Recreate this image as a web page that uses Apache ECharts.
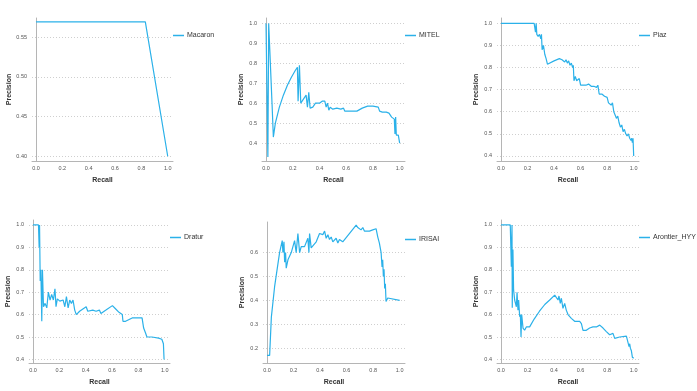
<!DOCTYPE html>
<html>
<head>
<meta charset="utf-8">
<script src="https://cdn.jsdelivr.net/npm/echarts@6/dist/echarts.min.js"></script>
<style>
  html, body { margin: 0; padding: 0; background: #fff; }
  #chart { width: 697px; height: 391px; }
</style>
</head>
<body>
<div id="chart"></div>
<script>
// precision-recall curves, [recall, precision]
const macaron = [[0, 0.569], [0.83, 0.569], [1.0, 0.40]]

const mitel = [
  [0, 1.0], [0.006, 1.0], [0.014, 0.33], [0.02, 1.0], [0.045, 0.60], [0.055, 0.43], [0.07, 0.50],
  [0.1, 0.58], [0.13, 0.64], [0.16, 0.69], [0.19, 0.73], [0.22, 0.765], [0.235, 0.78], [0.24, 0.61],
  [0.25, 0.79], [0.26, 0.60], [0.28, 0.62], [0.3, 0.64], [0.31, 0.58], [0.32, 0.655], [0.33, 0.575],
  [0.35, 0.58], [0.37, 0.60], [0.4, 0.60], [0.42, 0.61], [0.43, 0.60], [0.44, 0.61], [0.45, 0.58],
  [0.46, 0.60], [0.47, 0.565], [0.48, 0.58], [0.5, 0.57], [0.53, 0.575], [0.56, 0.57], [0.58, 0.575],
  [0.59, 0.56], [0.6, 0.57], [0.62, 0.56], [0.65, 0.56], [0.68, 0.56], [0.72, 0.575], [0.76, 0.585],
  [0.8, 0.585], [0.84, 0.58], [0.845, 0.59], [0.85, 0.56], [0.87, 0.555], [0.9, 0.555], [0.92, 0.55],
  [0.93, 0.56], [0.94, 0.53], [0.95, 0.53], [0.96, 0.52], [0.965, 0.445], [0.97, 0.53], [0.975, 0.44],
  [0.98, 0.43], [0.99, 0.44], [1.0, 0.40]
]

const piaz = [
  [0, 1.0], [0.25, 1.0], [0.26, 0.96], [0.265, 1.0], [0.27, 0.95], [0.28, 0.94], [0.29, 0.95],
  [0.3, 0.93], [0.305, 0.95], [0.31, 0.88], [0.32, 0.9], [0.33, 0.86], [0.34, 0.84], [0.35, 0.815],
  [0.36, 0.82], [0.4, 0.83], [0.44, 0.84], [0.455, 0.845], [0.46, 0.835], [0.47, 0.84], [0.48, 0.825],
  [0.49, 0.835], [0.5, 0.82], [0.51, 0.83], [0.52, 0.81], [0.53, 0.82], [0.54, 0.80], [0.545, 0.81],
  [0.55, 0.74], [0.56, 0.76], [0.57, 0.74], [0.58, 0.74], [0.59, 0.75], [0.6, 0.72], [0.62, 0.72],
  [0.64, 0.72], [0.66, 0.725], [0.68, 0.715], [0.7, 0.715], [0.72, 0.71], [0.73, 0.72], [0.74, 0.68],
  [0.76, 0.68], [0.78, 0.67], [0.8, 0.665], [0.81, 0.64], [0.82, 0.645], [0.83, 0.63], [0.84, 0.64],
  [0.85, 0.60], [0.86, 0.60], [0.87, 0.57], [0.88, 0.58], [0.89, 0.55], [0.9, 0.53], [0.91, 0.54],
  [0.92, 0.51], [0.93, 0.52], [0.94, 0.50], [0.95, 0.49], [0.96, 0.50], [0.97, 0.48], [0.98, 0.47],
  [0.985, 0.48], [0.99, 0.46], [0.995, 0.48], [1.0, 0.40]
]

const dratur = [
  [0, 1.0], [0.042, 1.0], [0.047, 0.90], [0.05, 1.0], [0.055, 0.75], [0.06, 0.80], [0.067, 0.57],
  [0.072, 0.80], [0.08, 0.635], [0.092, 0.65], [0.105, 0.63], [0.117, 0.70], [0.13, 0.665],
  [0.142, 0.69], [0.155, 0.665], [0.167, 0.715], [0.175, 0.635], [0.185, 0.67], [0.204, 0.66],
  [0.229, 0.665], [0.242, 0.635], [0.254, 0.68], [0.267, 0.63], [0.279, 0.665], [0.292, 0.65],
  [0.304, 0.665], [0.317, 0.62], [0.329, 0.60], [0.354, 0.615], [0.404, 0.635], [0.416, 0.615],
  [0.454, 0.62], [0.479, 0.615], [0.504, 0.62], [0.516, 0.605], [0.554, 0.62], [0.603, 0.64],
  [0.628, 0.625], [0.653, 0.61], [0.678, 0.60], [0.683, 0.57], [0.703, 0.57], [0.753, 0.585],
  [0.828, 0.585], [0.84, 0.54], [0.853, 0.52], [0.865, 0.50], [0.903, 0.50], [0.953, 0.495],
  [0.978, 0.49], [0.99, 0.47], [0.995, 0.40]
]

const irisai = [
  [0, 0.17], [0.02, 0.17], [0.033, 0.33], [0.058, 0.46], [0.083, 0.555], [0.095, 0.60], [0.108, 0.60],
  [0.115, 0.65], [0.12, 0.60], [0.128, 0.645], [0.133, 0.56], [0.14, 0.60], [0.145, 0.535],
  [0.158, 0.57], [0.183, 0.60], [0.208, 0.65], [0.22, 0.60], [0.233, 0.68], [0.246, 0.60],
  [0.258, 0.625], [0.283, 0.625], [0.308, 0.66], [0.316, 0.60], [0.321, 0.68], [0.333, 0.62],
  [0.371, 0.645], [0.396, 0.68], [0.421, 0.675], [0.434, 0.69], [0.446, 0.66], [0.459, 0.675],
  [0.471, 0.655], [0.484, 0.665], [0.496, 0.645], [0.521, 0.66], [0.534, 0.64], [0.546, 0.655],
  [0.571, 0.645], [0.672, 0.715], [0.684, 0.705], [0.697, 0.71], [0.709, 0.695], [0.722, 0.705],
  [0.734, 0.69], [0.747, 0.695], [0.772, 0.69], [0.797, 0.695], [0.81, 0.69], [0.822, 0.70],
  [0.835, 0.665], [0.847, 0.64], [0.86, 0.60], [0.867, 0.54], [0.872, 0.57], [0.877, 0.50],
  [0.882, 0.53], [0.887, 0.45], [0.892, 0.47], [0.897, 0.395], [0.91, 0.41], [1.0, 0.40]
]

const arontier = [
  [0, 1.0], [0.07, 1.0], [0.078, 0.814], [0.083, 1.0], [0.085, 0.63], [0.09, 0.89], [0.095, 0.71],
  [0.103, 0.665], [0.116, 0.635], [0.121, 0.70], [0.128, 0.62], [0.133, 0.665], [0.141, 0.59],
  [0.146, 0.60], [0.151, 0.50], [0.156, 0.60], [0.166, 0.54], [0.178, 0.53], [0.191, 0.545],
  [0.204, 0.54], [0.216, 0.545], [0.25, 0.58], [0.29, 0.615], [0.33, 0.645], [0.367, 0.665],
  [0.405, 0.687], [0.417, 0.68], [0.43, 0.665], [0.437, 0.683], [0.447, 0.65], [0.455, 0.673],
  [0.467, 0.628], [0.48, 0.65], [0.492, 0.62], [0.505, 0.60], [0.518, 0.60], [0.53, 0.583],
  [0.543, 0.59], [0.555, 0.57], [0.568, 0.576], [0.593, 0.57], [0.606, 0.56], [0.618, 0.53],
  [0.643, 0.53], [0.668, 0.54], [0.693, 0.545], [0.719, 0.545], [0.744, 0.553], [0.769, 0.54],
  [0.781, 0.545], [0.794, 0.524], [0.807, 0.53], [0.819, 0.51], [0.844, 0.516], [0.857, 0.494],
  [0.894, 0.50], [0.945, 0.504], [0.957, 0.50], [0.965, 0.457], [0.97, 0.47], [0.975, 0.45],
  [0.982, 0.44], [0.99, 0.41], [1.0, 0.405]
]

const names = ["Macaron", "MITEL", "Piaz", "Dratur", "IRISAI", "Arontier_HYY"]
const curves = [macaron, mitel, piaz, dratur, irisai, arontier]
const xTicks = [0, 0.2, 0.4, 0.6, 0.8, 1.0]
const yTicks = [
  [0.40, 0.45, 0.50, 0.55],
  [0.4, 0.5, 0.6, 0.7, 0.8, 0.9, 1.0],
  [0.4, 0.5, 0.6, 0.7, 0.8, 0.9, 1.0],
  [0.4, 0.5, 0.6, 0.7, 0.8, 0.9, 1.0],
  [0.2, 0.3, 0.4, 0.5, 0.6],
  [0.4, 0.5, 0.6, 0.7, 0.8, 0.9, 1.0],
]
const yRanges = [[0.394, 0.574], [0.31, 1.027], [0.377, 1.024], [0.384, 1.022], [0.138, 0.728], [0.384, 1.022]]

const grids = [
  { left: 32, top: 18, width: 141, height: 143 },
  { left: 262, top: 18, width: 143, height: 143 },
  { left: 497, top: 18, width: 142, height: 143 },
  { left: 29, top: 220, width: 141, height: 143 },
  { left: 263, top: 222, width: 142, height: 141 },
  { left: 497, top: 220, width: 142, height: 143 },
]

const lineColor = "#2bb1e9"
const font = "Liberation Sans"

const chart = echarts.init(document.getElementById("chart"), null, { renderer: "canvas" })

const option = {
  animation: false,
  backgroundColor: "#fff",
  textStyle: { fontFamily: font },
  grid: grids,
  legend: grids.map((g, i) => ({
    data: [names[i]],
    left: g.left + g.width,
    top: g.top + 14,
    padding: 0,
    icon: "rect",
    itemWidth: 11,
    itemHeight: 1.5,
    itemGap: 4,
    textStyle: { fontSize: 7, color: "#333", fontFamily: font, padding: [0, 0, 0, -2] },
  })),
  xAxis: grids.map((g, i) => ({
    type: "value",
    gridIndex: i,
    min: -0.03,
    max: 1.04,
    name: "Recall",
    nameLocation: "middle",
    nameGap: 16,
    nameTextStyle: { fontSize: 7, fontWeight: "bold", color: "#333" },
    axisLine: { lineStyle: { color: "#b5b5b5", width: 1 } },
    axisTick: { show: false, customValues: xTicks },
    axisLabel: {
      customValues: xTicks,
      fontSize: 5.5,
      color: "#555",
      margin: 4,
      formatter: (v) => v.toFixed(1),
    },
    splitLine: { show: false },
  })),
  yAxis: grids.map((g, i) => ({
    type: "value",
    gridIndex: i,
    min: yRanges[i][0],
    max: yRanges[i][1],
    name: "Precision",
    nameLocation: "middle",
    nameGap: 17,
    nameTextStyle: { fontSize: 7, fontWeight: "bold", color: "#333" },
    axisLine: { show: true, lineStyle: { color: "#b5b5b5", width: 1 } },
    axisTick: { show: false, customValues: yTicks[i] },
    axisLabel: {
      customValues: yTicks[i],
      fontSize: 5.5,
      color: "#555",
      margin: 5,
      formatter: (v) => (i === 0 ? v.toFixed(2) : v.toFixed(1)),
    },
    splitLine: { show: true, lineStyle: { color: "#cfcfcf", type: [1, 2], width: 1 } },
  })),
  series: curves.map((d, i) => ({
    name: names[i],
    type: "line",
    xAxisIndex: i,
    yAxisIndex: i,
    data: d,
    showSymbol: false,
    symbol: "none",
    lineStyle: { color: lineColor, width: 1.2 },
    itemStyle: { color: lineColor },
  })),
}

chart.setOption(option)

window.addEventListener("resize", () => chart.resize())
</script>
</body>
</html>
